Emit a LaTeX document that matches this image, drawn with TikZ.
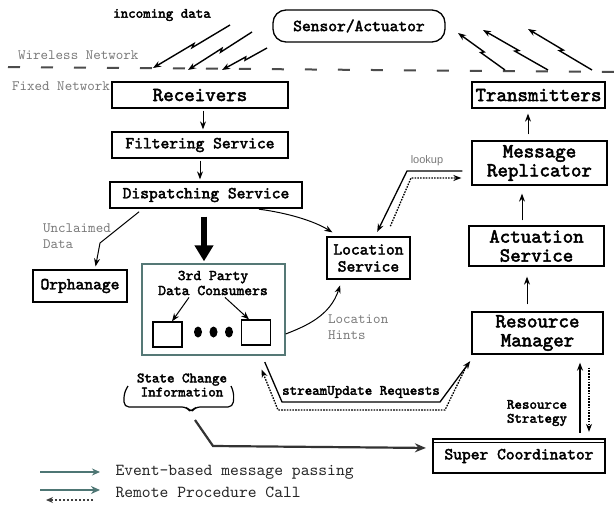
\documentclass[tikz,border=0pt]{standalone}
\usepackage{fontspec}
\setmainfont{lmmono10-regular.otf}
\newfontfamily\heavymono{lmmono10-regular.otf}[FakeBold=2.5]
\setsansfont{Liberation Sans}
\usetikzlibrary{arrows.meta,calc}
\definecolor{framegreen}{HTML}{557876}
\definecolor{legendteal}{HTML}{4E7674}
\definecolor{notegray}{HTML}{7A7A7A}
% wireless link drawn as a thin lightning bolt
\newcommand\boltarrow[2]{%
  \draw[bolt] (#1) -- ($(#1)!0.50!(#2)!1.3pt!90:(#2)$) -- ($(#1)!0.46!(#2)!-1.3pt!90:(#2)$) -- (#2);}
\begin{document}
\begin{tikzpicture}[x=1pt,y=-1pt,
  box/.style={draw,line width=1.3pt,inner sep=0pt,align=center},
  lbig/.style={font=\heavymono\fontsize{20}{19}\selectfont},
  lmid/.style={font=\heavymono\fontsize{16.7}{17}\selectfont},
  lsml/.style={font=\heavymono\fontsize{14.3}{14}\selectfont},
  lnote/.style={font=\fontsize{14.3}{15.5}\selectfont,text=notegray,align=left,inner sep=0pt},
  mytip/.style={-{Stealth[length=8pt,width=6pt]}},
  ev/.style={draw,line width=1pt,mytip},
  rpcdot/.style={draw,line width=1.3pt,dash pattern=on 1.6pt off 1.2pt,mytip},
  bolt/.style={draw,line width=1.4pt,mytip},
]
\useasboundingbox (0,0) rectangle (616,506);
\fill[white] (0,0) rectangle (616,506);

% ---- network boundary ----
\coordinate (wl) at (8,67);
\coordinate (wr) at (616,72);
\draw[black!70,line width=2pt,dash pattern=on 12pt off 21pt] (wl) -- (wr);
\node[lnote,anchor=west] (wlan) at (18,55) {Wireless Network};
\node[lnote,anchor=west] (fnet) at (12,86) {Fixed Network};

% ---- boxes ----
\node[box,lmid,rounded corners=13pt,minimum width=172pt,minimum height=32pt] (sens) at (359,26) {Sensor/Actuator};
\node[lsml] (inc) at (162,15) {incoming data};
\node[box,lbig,minimum width=176pt,minimum height=26pt] (recv) at (200,95) {Receivers};
\node[box,lbig,minimum width=133pt,minimum height=26pt] (trans) at (538.5,95) {Transmitters};
\node[box,lmid,minimum width=176pt,minimum height=26pt] (filt) at (200,145) {Filtering Service};
\node[box,lmid,minimum width=192pt,minimum height=26pt] (disp) at (206,195) {Dispatching Service};
\node[box,lbig,minimum width=135pt,minimum height=44pt] (mrep) at (539.5,163) {Message\\Replicator};
\node[box,lbig,minimum width=135pt,minimum height=40pt] (act) at (536.5,246) {Actuation\\Service};
\node[box,lbig,minimum width=131pt,minimum height=42pt] (rman) at (537.5,333) {Resource\\Manager};
\node[box,lmid,line width=2.2pt,minimum width=172pt,minimum height=34pt] (sup) at (519,456) {Super Coordinator};
\draw[line width=1pt] ([yshift=-5pt]sup.north west) -- ([yshift=-5pt]sup.north east);
\node[box,lmid,minimum width=83pt,minimum height=42pt] (loc) at (368.5,258) {Location\\Service};
\node[box,lmid,minimum width=94pt,minimum height=32pt] (orph) at (80,286) {Orphanage};

% ---- third party consumers ----
\node[draw=framegreen,line width=1.3pt,minimum width=143pt,minimum height=91pt] (third) at (213.5,309.5) {};
\node[font=\heavymono\fontsize{14.9}{15}\selectfont,align=center,inner sep=2pt] (tpl) at (213,283) {3rd Party\\Data Consumers};
\node[draw,line width=1.3pt,minimum width=29pt,minimum height=25pt] (c1) at (167.5,334.5) {};
\node[draw,line width=1.3pt,minimum width=29pt,minimum height=25pt] (c2) at (256,332.5) {};
\fill (198,332) ellipse (4pt and 5.5pt);
\fill (213.5,332) ellipse (4pt and 5.5pt);
\fill (229,332) ellipse (4pt and 5.5pt);
\draw[ev] (tpl.south -| 189,0) -- (c1.north -| 172,0);
\draw[ev] (tpl.south -| 225,0) -- (c2.north -| 249,0);

% ---- wireless links ----
\coordinate (i1a) at (230,25);  \coordinate (i1b) at (153,68);
\coordinate (i2a) at (252,32);  \coordinate (i2b) at (188,70);
\coordinate (i3a) at (267,48);  \coordinate (i3b) at (222,70);
\boltarrow{i1a}{i1b}
\boltarrow{i2a}{i2b}
\boltarrow{i3a}{i3b}
\coordinate (o1a) at (505,70);  \coordinate (o1b) at (458,33);
\coordinate (o2a) at (548,70);  \coordinate (o2b) at (483,30);
\coordinate (o3a) at (592,70);  \coordinate (o3b) at (528,29);
\boltarrow{o1a}{o1b}
\boltarrow{o2a}{o2b}
\boltarrow{o3a}{o3b}

% ---- event-based flow ----
\draw[ev,shorten <=2pt,shorten >=2pt] (recv.south -| 203,0) -- (filt.north -| 203,0);
\draw[ev,shorten <=2pt,shorten >=2pt] (filt.south) -- (filt.south |- disp.north);
\draw[line width=6.5pt,-{Triangle[length=16pt,width=18pt]},shorten <=8pt,shorten >=2pt] (disp.south -| 204,0) -- (third.north -| 204,0);
\draw[ev,shorten <=5pt,shorten >=3pt] (disp.south -| 143,0) -- (100,243) -- (orph.north -| 95,0);
\node[lnote,anchor=west] (uncl) at (43,236) {Unclaimed\\Data};
\draw[ev,shorten <=4pt] (disp.south -| 255,0) .. controls (288,213) and (314,221) .. ([xshift=6pt,yshift=4pt]loc.north west);
\draw[ev,shorten >=6pt] (third.east |- 0,334) .. controls (306,326) and (330,316) .. (loc.south -| 342,0);
\node[lnote,anchor=west] (lhint) at (328,327) {Location\\Hints};

\draw[ev,shorten <=7pt,shorten >=10pt] (rman.north -| 527,0) -- (act.south -| 527,0);
\draw[ev,shorten <=5pt,shorten >=8pt] (act.north -| 522,0) -- (mrep.south -| 522,0);
\draw[ev,shorten <=6pt,shorten >=5pt] (mrep.north -| 528,0) -- (trans.south -| 528,0);

% ---- remote procedure calls ----
\draw[ev,line width=1.3pt,shorten <=9pt,shorten >=5pt] (mrep.west |- 0,171) -- (407,171) -- (loc.north -| 375,0);
\draw[rpcdot,shorten <=11pt,shorten >=10pt] (loc.north -| 386,0) -- (411,178) -- (mrep.west |- 0,178);
\node[font=\sffamily\fontsize{11}{13}\selectfont,text=notegray] (lkp) at (427,161) {lookup};

\draw[ev,line width=1.3pt,shorten <=7pt,shorten >=8pt] (third.south -| 262,0) -- (282,402) -- (440,402) -- (rman.south -| 475,0);
\draw[rpcdot,shorten <=11pt,shorten >=15pt] (rman.south -| 472,0) -- (445,410) -- (278,410) -- (third.south -| 256,0);
\node[lsml] (sup-lbl) at (361,392) {streamUpdate Requests};

\draw[ev,line width=1.5pt,shorten <=5pt,shorten >=8pt] (sup.north -| 580,0) -- (rman.south -| 580,0);
\draw[rpcdot,shorten <=13pt,shorten >=6pt] (rman.south -| 589,0) -- (sup.north -| 589,0);
\node[lsml,align=center] (rstr) at (537,413) {Resource\\Strategy};

% ---- state change notification ----
\node[lsml,align=center] (scinfo) at (182,385) {State Change\\Information};
\coordinate (btip) at (191,413);
\draw[line width=1.2pt,rounded corners=5pt] (128,386) -- (124,393) -- (124,407) -- (187,407) -- (btip) -- (195,407) -- (233,407) -- (234,393) -- (231,386);
\coordinate (scstart) at (195,420);
\draw[draw=black!80,line width=2.2pt,-{Stealth[length=11pt,width=9pt]},shorten >=6pt] (scstart) -- (213,446) -- (sup.west |- 0,448);

% ---- legend ----
\coordinate (la1) at (40,472); \coordinate (lb1) at (100,472);
\coordinate (la2) at (40,490); \coordinate (lb2) at (100,490);
\coordinate (la3) at (93,500); \coordinate (lb3) at (46,500);
\draw[draw=legendteal,line width=1.2pt,-{Stealth[length=8pt,width=7pt]}] (la1) -- (lb1);
\draw[draw=legendteal,line width=2pt,-{Stealth[length=9pt,width=8pt]}] (la2) -- (lb2);
\draw[draw=black!75,line width=1.3pt,dash pattern=on 2pt off 2pt,-{Stealth[length=7pt,width=6pt]}] (la3) -- (lb3);
\node[anchor=west,font=\fontsize{16.8}{17}\selectfont,text=black!85] (leg1) at (112,472) {Event-based message passing};
\node[anchor=west,font=\fontsize{16.8}{17}\selectfont,text=black!85] (leg2) at (112,492) {Remote Procedure Call};
\end{tikzpicture}
\end{document}
